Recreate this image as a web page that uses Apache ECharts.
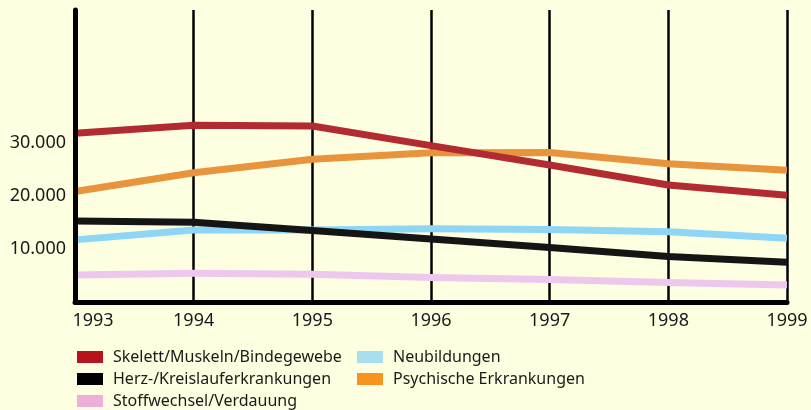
<!DOCTYPE html>
<html><head><meta charset="utf-8">
<script src="https://cdn.jsdelivr.net/npm/echarts@6/dist/echarts.min.js"></script>
<style>html,body{margin:0;padding:0;background:#fefee0}#c{width:811px;height:410px}</style>
</head><body><div id="c"></div>
<script>
const years = ['1993','1994','1995','1996','1997','1998','1999'];
const skelett = [31800, 33300, 33150, 29450, 25800, 22050, 20100];
const herz = [15250, 15000, 13450, 11850, 10250, 8550, 7500];
const stoffwechsel = [5100, 5400, 5250, 4600, 4250, 3650, 3200];
const neubildungen = [11700, 13550, 13550, 13800, 13650, 13250, 12000];
const psychische = [20800, 24350, 26900, 28100, 28150, 26050, 24800];
const yTicks = [10000, 20000, 30000];

const names = {
  sk: 'Skelett/Muskeln/Bindegewebe',
  he: 'Herz-/Kreislauferkrankungen',
  st: 'Stoffwechsel/Verdauung',
  ne: 'Neubildungen',
  ps: 'Psychische Erkrankungen'
};
const font = '"Noto Sans", "Open Sans", sans-serif';
function fmt(v){ return String(v/1000) + '.000'; }

const chart = echarts.init(document.getElementById('c'), null, {renderer:'canvas'});
function line(name, data, color){
  return {type:'line', name, data, symbol:'none', smooth:false,
    lineStyle:{color, width:7, join:'round', cap:'butt'}, itemStyle:{color}};
}
const legendCommon = {orient:'vertical', icon:'rect', itemWidth:26, itemHeight:12, itemGap:6,
  height:70, padding:0,
  textStyle:{fontFamily:font, fontSize:16, color:'#1a1a1a', lineHeight:12, padding:[0,0,0,5]}, selectedMode:false};
chart.setOption({
  backgroundColor:'#fefee0',
  animation:false,
  grid:{left:75, right:24, top:10, bottom:108},
  legend:[
    Object.assign({left:77, top:349, data:[
      {name:names.sk, itemStyle:{color:'#b5141f'}},
      {name:names.he, itemStyle:{color:'#000000'}},
      {name:names.st, itemStyle:{color:'#edafd8'}}
    ]}, legendCommon),
    Object.assign({left:357, top:349, data:[
      {name:names.ne, itemStyle:{color:'#a8dfee'}},
      {name:names.ps, itemStyle:{color:'#f7941e'}}
    ]}, legendCommon)
  ],
  xAxis:{type:'category', data:years, boundaryGap:false,
    axisLine:{show:true, lineStyle:{color:'#000', width:5}},
    axisTick:{show:false},
    splitLine:{show:true, lineStyle:{color:'#000', width:2.5}},
    axisLabel:{fontFamily:font, fontSize:18, color:'#1a1a1a', margin:10,
      formatter:function(v, i){ return i===0 ? '{a|'+v+'}' : v; },
      rich:{a:{fontFamily:font, fontSize:18, color:'#1a1a1a', padding:[0,0,0,36]}}}
  },
  yAxis:{type:'value', min:0, max:55000, interval:10000, z:5,
    axisLine:{show:true, lineStyle:{color:'#000', width:5}},
    axisTick:{show:false}, splitLine:{show:false},
    axisLabel:{fontFamily:font, fontSize:18, color:'#1a1a1a', margin:9,
      formatter:function(v){ return yTicks.indexOf(v) >= 0 ? fmt(v) : ''; }}
  },
  series:[
    line(names.st, stoffwechsel, '#ecc8ee'),
    line(names.ne, neubildungen, '#8ed6f6'),
    line(names.ps, psychische, '#e8943d'),
    line(names.he, herz, '#151515'),
    line(names.sk, skelett, '#b22b31')
  ]
});
</script></body></html>
